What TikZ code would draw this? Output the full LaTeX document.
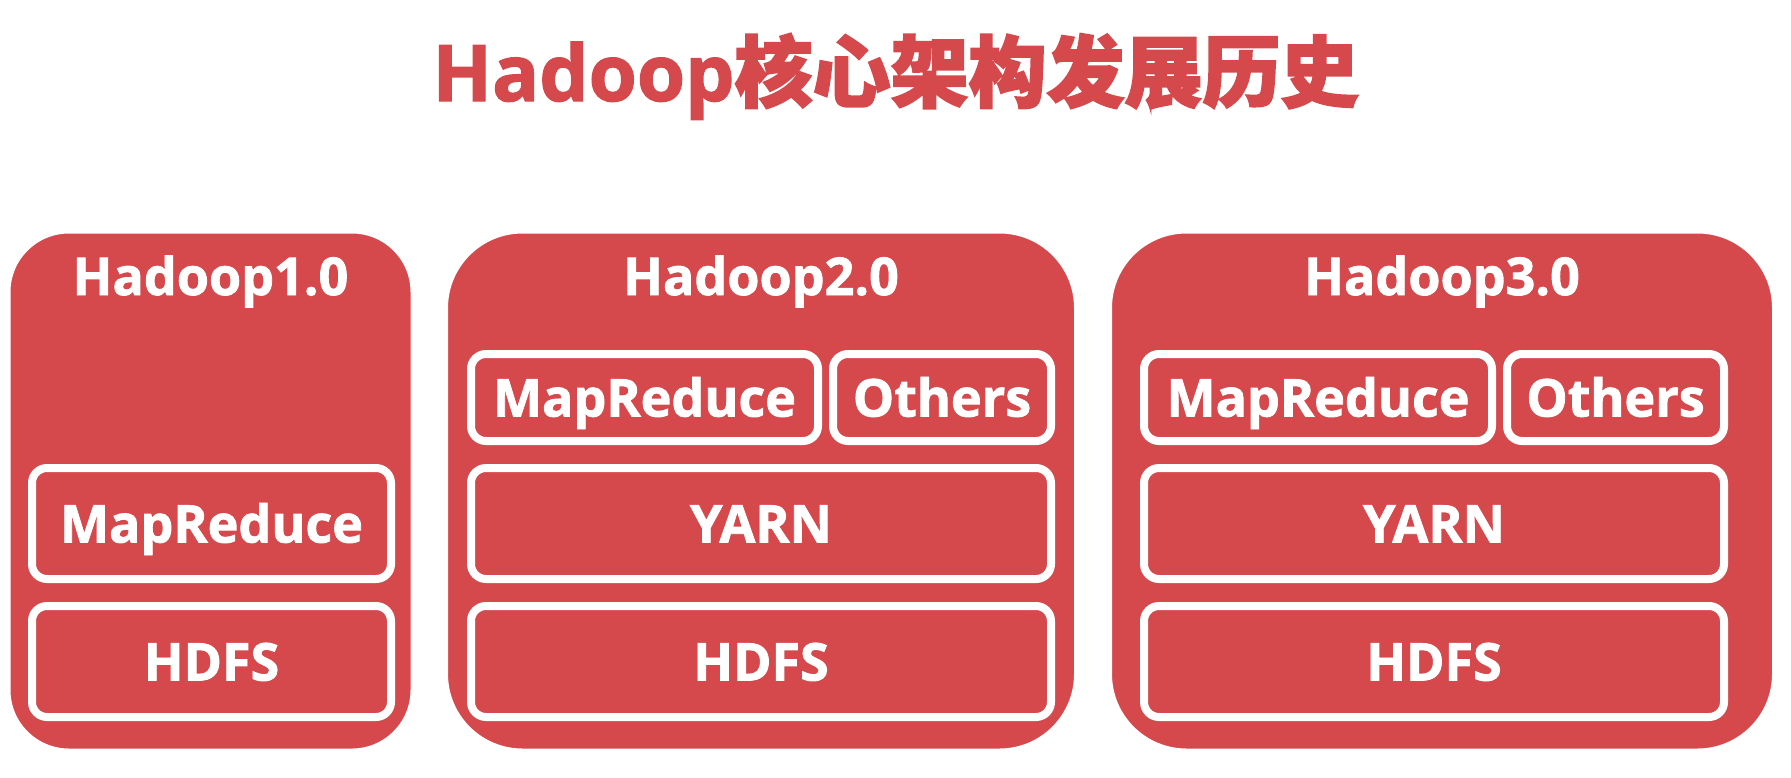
\documentclass[tikz,border=0pt]{standalone}
\usepackage{fontspec}
\usetikzlibrary{shadows}
\setmainfont{Open Sans}[BoldFeatures={FakeBold=1.6}]
\newfontfamily\cjk{Noto Sans CJK SC}[BoldFeatures={FakeBold=2.4}]
\definecolor{hred}{RGB}{213,73,77}

\begin{document}
\begin{tikzpicture}[x=0.5pt, y=-0.5pt,
    outerbox/.style={draw=white, line width=3.5pt, fill=hred, anchor=center,
        drop shadow={shadow xshift=0pt, shadow yshift=-0.8pt, opacity=0.15}},
    innerbox/.style={draw=white, line width=4pt, fill=hred, rounded corners=7.5pt,
        minimum height=#1, inner sep=0pt, text=white, font=\bfseries\fontsize{26}{26}\selectfont,
        text height=19pt, text depth=0pt,
        drop shadow={shadow xshift=0.8pt, shadow yshift=-1.2pt, opacity=0.3}},
    innerbox/.default=55.5pt,
    boxtitle/.style={text=white, anchor=base, inner sep=0pt, font=\bfseries\fontsize{26}{26}\selectfont}]
        \useasboundingbox (0,0) rectangle (1791,777);
        \node (title) [anchor=base, inner sep=0pt, text=hred, font=\bfseries\fontsize{39}{39}\selectfont] at (895.5,101) {Hadoop{\cjk\bfseries 核心架构发展历史}};

        \node (verOne) [outerbox, rounded corners=31pt, minimum width=203.5pt, minimum height=261pt] at (210.5,491) {};
        \node (verTwo) [outerbox, rounded corners=39pt, minimum width=316.5pt, minimum height=261pt] at (761,491) {};
        \node (verThree) [outerbox, rounded corners=39pt, minimum width=333.5pt, minimum height=261pt] at (1442,491) {};

        \node (titleOne) [boxtitle] at (210.5,295) {Hadoop1.0};
        \node (titleTwo) [boxtitle] at (761,295) {Hadoop2.0};
        \node (titleThree) [boxtitle] at (1442,295) {Hadoop3.0};

        \node (mrOne) [innerbox, minimum width=179.5pt] at (211.5,523.5) {MapReduce};
        \node (hdfsOne) [innerbox, minimum width=179.5pt] at (211.5,661.5) {HDFS};

        \node (mrTwo) [innerbox=43.5pt, minimum width=173.5pt] at (644.5,397.5) {MapReduce};
        \node (otTwo) [innerbox=43.5pt, minimum width=109pt] at (942,397.5) {Others};
        \node (yarnTwo) [innerbox, minimum width=290pt] at (761,523.5) {YARN};
        \node (hdfsTwo) [innerbox, minimum width=290pt] at (761,661.5) {HDFS};

        \node (mrThree) [innerbox=43.5pt, minimum width=174pt] at (1318,397.5) {MapReduce};
        \node (otThree) [innerbox=43.5pt, minimum width=108.5pt] at (1615.5,397.5) {Others};
        \node (yarnThree) [innerbox, minimum width=290pt] at (1434,523.5) {YARN};
        \node (hdfsThree) [innerbox, minimum width=290pt] at (1434,661.5) {HDFS};
    \end{tikzpicture}
\end{document}
